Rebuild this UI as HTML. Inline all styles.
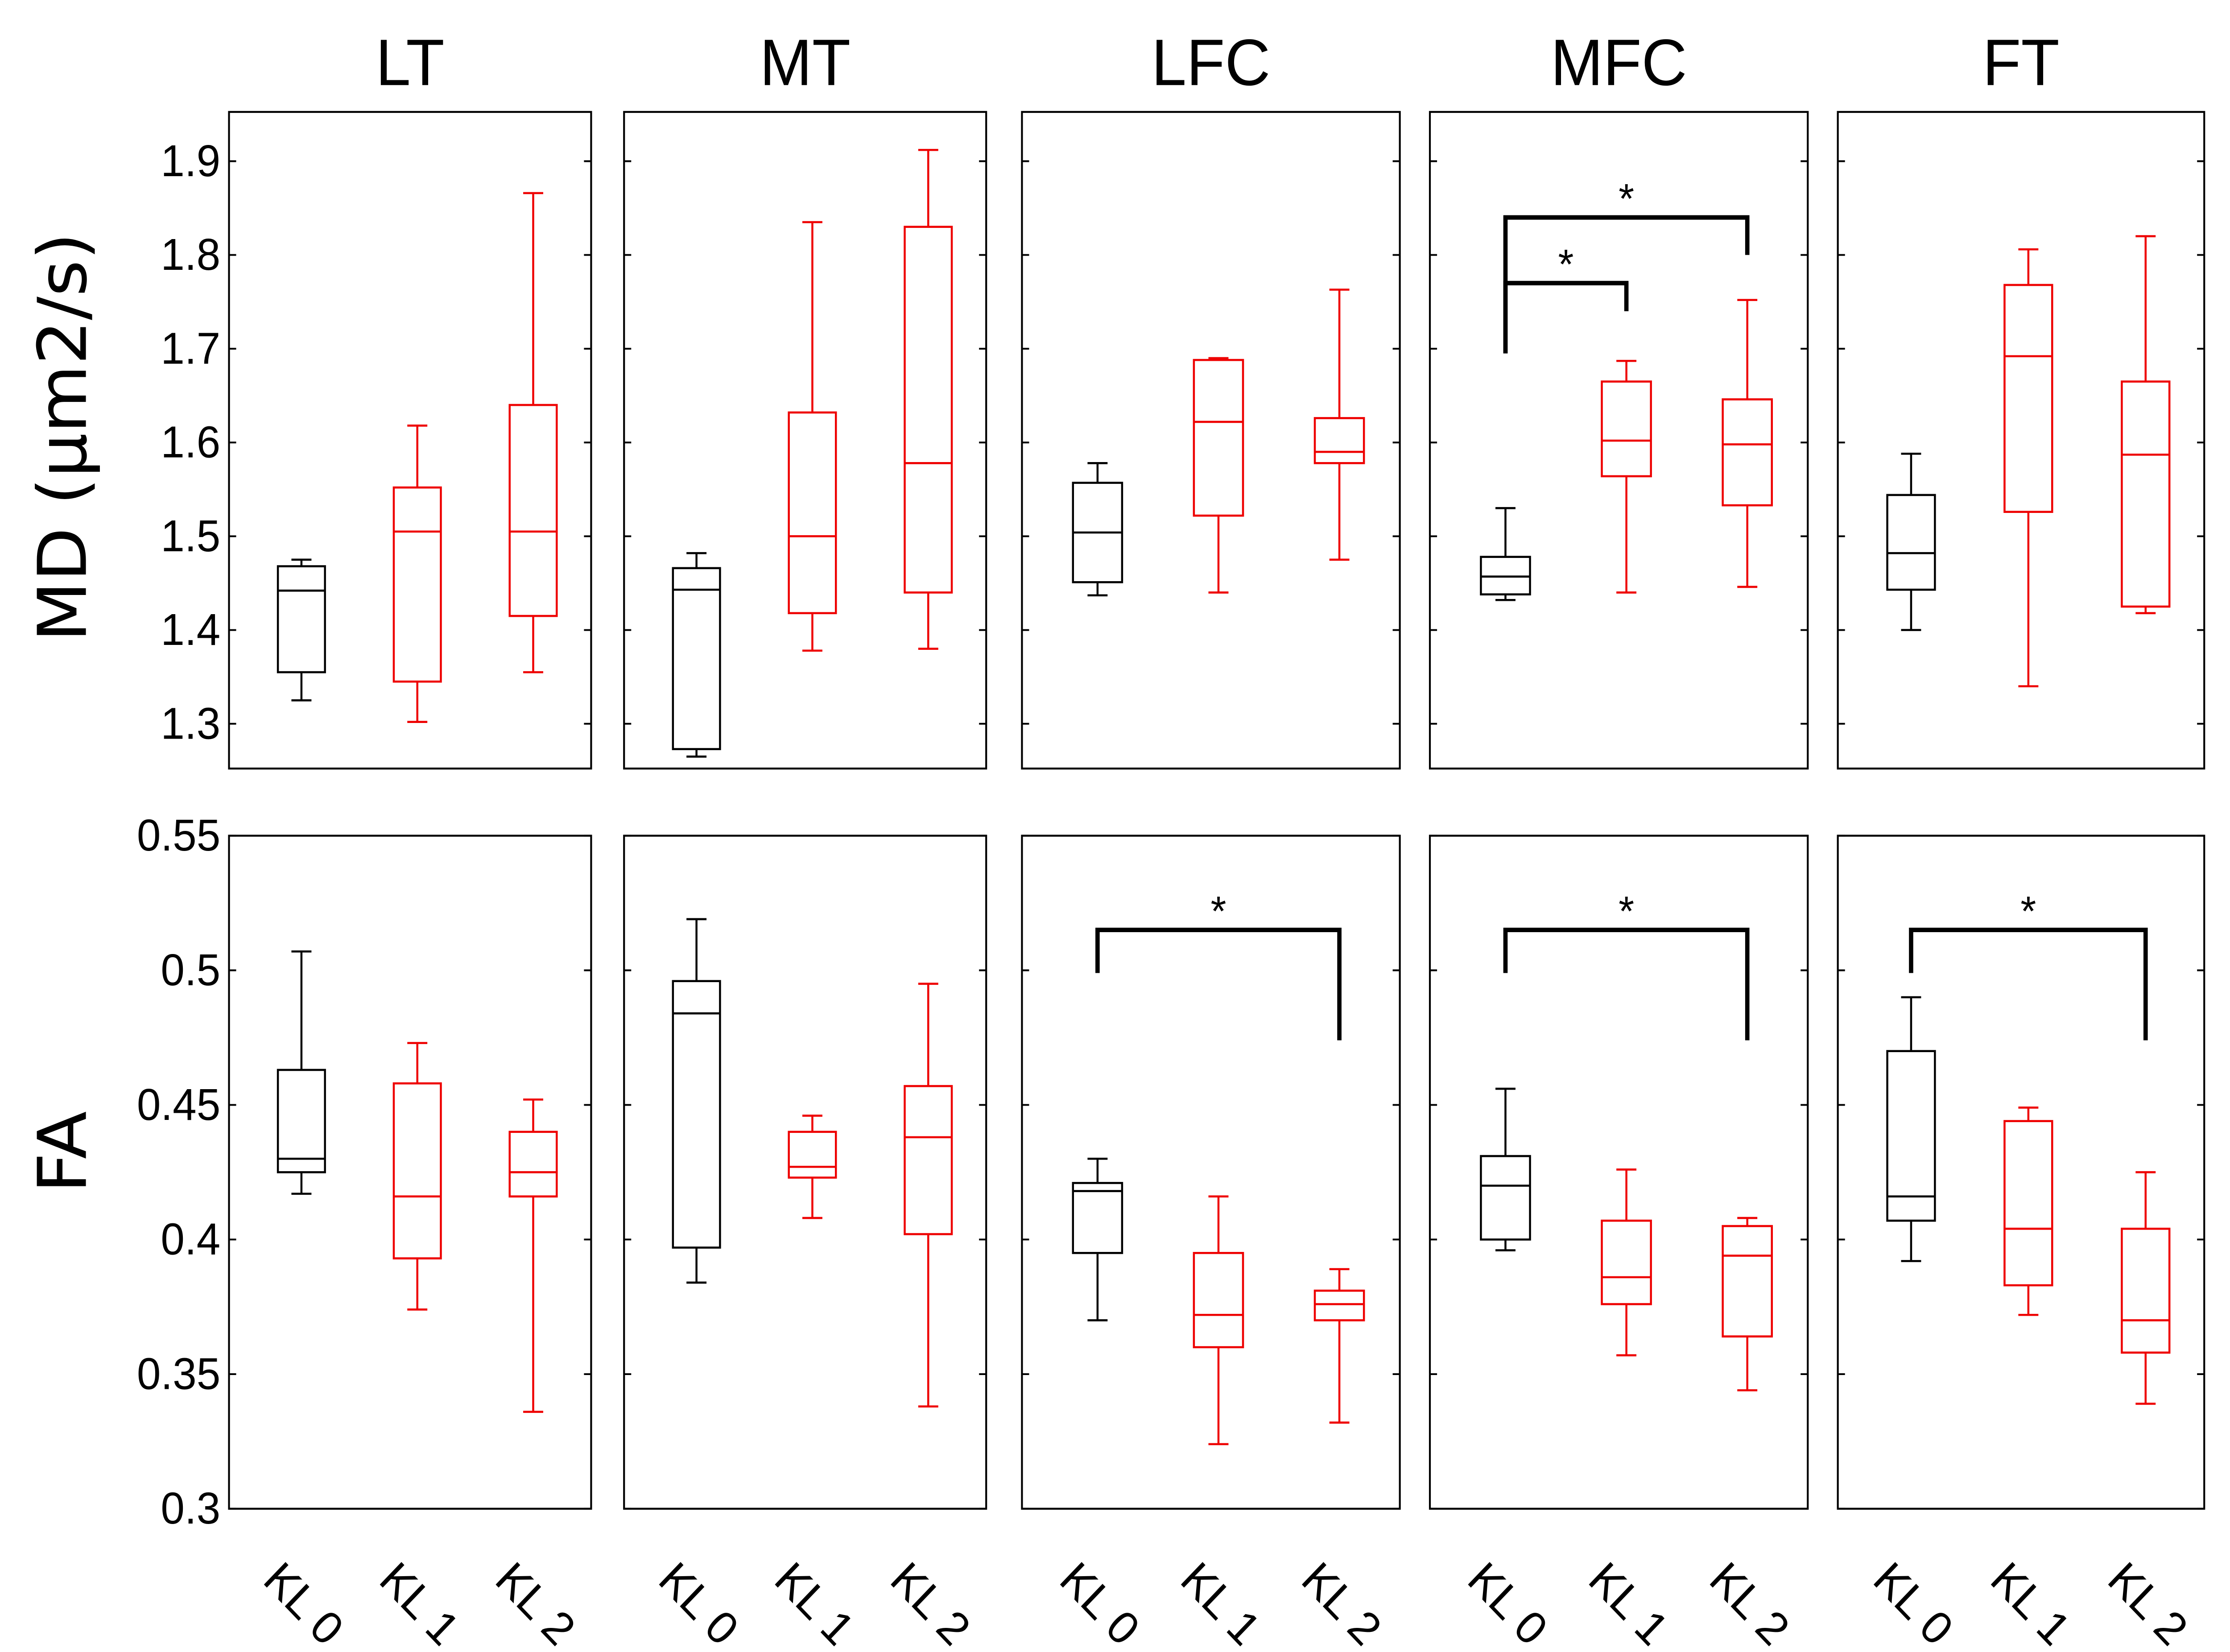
<!DOCTYPE html>
<html><head><meta charset="utf-8"><style>html,body{margin:0;padding:0;background:#fff;overflow:hidden;width:100%;height:100%}svg{display:block;width:100vw;height:100vh}</style></head>
<body>
<svg id="chart" viewBox="0 0 1558 1107" preserveAspectRatio="none" xmlns="http://www.w3.org/2000/svg" font-family="'Liberation Sans', 'DejaVu Sans', sans-serif"></svg>
<script>
const regions = ["LT","MT","LFC","MFC","FT"];
const groups = ["KL 0","KL 1","KL 2"];
const mdTicks = [1.3,1.4,1.5,1.6,1.7,1.8,1.9];
const faTicks = [0.3,0.35,0.4,0.45,0.5,0.55];
const faTickLabels = ["0.3","0.35","0.4","0.45","0.5","0.55"];
// [whiskerLow, q1, median, q3, whiskerHigh]
const mdLT = [[1.325,1.355,1.442,1.468,1.475],[1.302,1.345,1.505,1.552,1.618],[1.355,1.415,1.505,1.640,1.866]];
const mdMT = [[1.265,1.273,1.443,1.466,1.482],[1.378,1.418,1.5,1.632,1.835],[1.38,1.44,1.578,1.83,1.912]];
const mdLFC = [[1.437,1.451,1.504,1.557,1.578],[1.44,1.522,1.622,1.688,1.69],[1.475,1.578,1.59,1.626,1.763]];
const mdMFC = [[1.432,1.438,1.457,1.478,1.53],[1.44,1.564,1.602,1.665,1.687],[1.446,1.533,1.598,1.646,1.752]];
const mdFT = [[1.4,1.443,1.482,1.544,1.588],[1.34,1.526,1.692,1.768,1.806],[1.418,1.425,1.587,1.665,1.82]];
const faLT = [[0.417,0.425,0.43,0.463,0.507],[0.374,0.393,0.416,0.458,0.473],[0.336,0.416,0.425,0.44,0.452]];
const faMT = [[0.384,0.397,0.484,0.496,0.519],[0.408,0.423,0.427,0.44,0.446],[0.338,0.402,0.438,0.457,0.495]];
const faLFC = [[0.37,0.395,0.418,0.421,0.43],[0.324,0.36,0.372,0.395,0.416],[0.332,0.37,0.376,0.381,0.389]];
const faMFC = [[0.396,0.4,0.42,0.431,0.456],[0.357,0.376,0.386,0.407,0.426],[0.344,0.364,0.394,0.405,0.408]];
const faFT = [[0.392,0.407,0.416,0.47,0.49],[0.372,0.383,0.404,0.444,0.449],[0.339,0.358,0.37,0.404,0.425]];
const mdData = [mdLT,mdMT,mdLFC,mdMFC,mdFT];
const faData = [faLT,faMT,faLFC,faMFC,faFT];
// significance: [panel, row, fromGroup, toGroup, barValue, leftEndValue, rightEndValue]
const sigBrackets = [[3,0,0,2,1.84,1.695,1.80],[3,0,0,1,1.77,1.695,1.74],[2,1,0,2,0.515,0.499,0.474],[3,1,0,2,0.515,0.499,0.474],[4,1,0,2,0.515,0.499,0.474]];

const svg = document.getElementById('chart');
const NS = 'http://www.w3.org/2000/svg';
function el(tag, attrs, parent){const e=document.createElementNS(NS,tag);for(const k in attrs)e.setAttribute(k,attrs[k]);(parent||svg).appendChild(e);return e;}
const panelX = [[160,413],[436,689],[714,978],[999,1263],[1284,1540]];
const rowY = [[75,515],[560,1011]];
const yMD = v => 485-(v-1.3)*628.3;
const yFA = v => 1011-(v-0.3)*(451/0.25);
const yFns=[yMD,yFA];
function xG(p,g){const [a,b]=panelX[p];const w=b-a;return a+w*(0.2+0.32*g);}
const colors=['#000','#e00','#e00'];

regions.forEach((r,p)=>{
  const [a,b]=panelX[p];
  const t=el('text',{x:(a+b)/2,y:57,'font-size':44,'text-anchor':'middle'});t.textContent=r;
  
  
  [0,1].forEach(row=>{
    const [y0,y1]=rowY[row]; const yf=yFns[row];
    const g=el('g',{});
    
    
    el('rect',{x:a,y:y0,width:b-a,height:y1-y0,fill:'none',stroke:'#000','stroke-width':1.3},g);
    const ticks=row?faTicks:mdTicks;
    ticks.forEach((tv,i)=>{const y=yf(tv);
      el('line',{x1:a,x2:a+5,y1:y,y2:y,stroke:'#000','stroke-width':1.2},g);
      el('line',{x1:b-5,x2:b,y1:y,y2:y,stroke:'#000','stroke-width':1.2},g);
      if(p===0){const tl=el('text',{x:a-6,y:y+10,'font-size':30,'text-anchor':'end'});tl.textContent=row?faTickLabels[i]:tv.toFixed(1);
        
        }
    });
    const data=(row?faData:mdData)[p];
    data.forEach((d,gi)=>{const x=xG(p,gi);const hw=(b-a)*0.065;const c=colors[gi];
      const bx=el('g',{stroke:c,'stroke-width':1.4,fill:'none'},g);
      
      
      el('line',{x1:x,x2:x,y1:yf(d[0]),y2:yf(d[1])},bx);
      el('line',{x1:x,x2:x,y1:yf(d[3]),y2:yf(d[4])},bx);
      el('line',{x1:x-7,x2:x+7,y1:yf(d[0]),y2:yf(d[0])},bx);
      el('line',{x1:x-7,x2:x+7,y1:yf(d[4]),y2:yf(d[4])},bx);
      el('rect',{x:x-hw,y:yf(d[3]),width:2*hw,height:yf(d[1])-yf(d[3])},bx);
      el('line',{x1:x-hw,x2:x+hw,y1:yf(d[2]),y2:yf(d[2])},bx);
    });
  });
  groups.forEach((gname,gi)=>{const x=xG(p,gi)-28;const y=1060;
    const tl=el('text',{x:x,y:y,'font-size':31,transform:`rotate(45 ${x} ${y})`});tl.textContent=gname;
    
    
  });
});
sigBrackets.forEach(s=>{const [p,row,g1,g2,bar,l,rr]=s;const yf=yFns[row];
  const x1=xG(p,g1),x2=xG(p,g2);
  const pl=el('polyline',{points:`${x1},${yf(l)} ${x1},${yf(bar)} ${x2},${yf(bar)} ${x2},${yf(rr)}`,fill:'none',stroke:'#000','stroke-width':3});
  
  
  const st=el('text',{x:(x1+x2)/2,y:yf(bar)-3,'font-size':28,'text-anchor':'middle'});st.textContent='*';
  
  
});
const yt1=el('text',{x:0,y:0,'font-size':47,'font-family':"'DejaVu Sans', sans-serif",'text-anchor':'middle',transform:'translate(60 293) rotate(-90)'});yt1.textContent='MD (µm2/s)';


const yt2=el('text',{x:0,y:0,'font-size':47,'font-family':"'DejaVu Sans', sans-serif",'text-anchor':'middle',transform:'translate(60 772) rotate(-90)'});yt2.textContent='FA';


</script>
</body></html>
